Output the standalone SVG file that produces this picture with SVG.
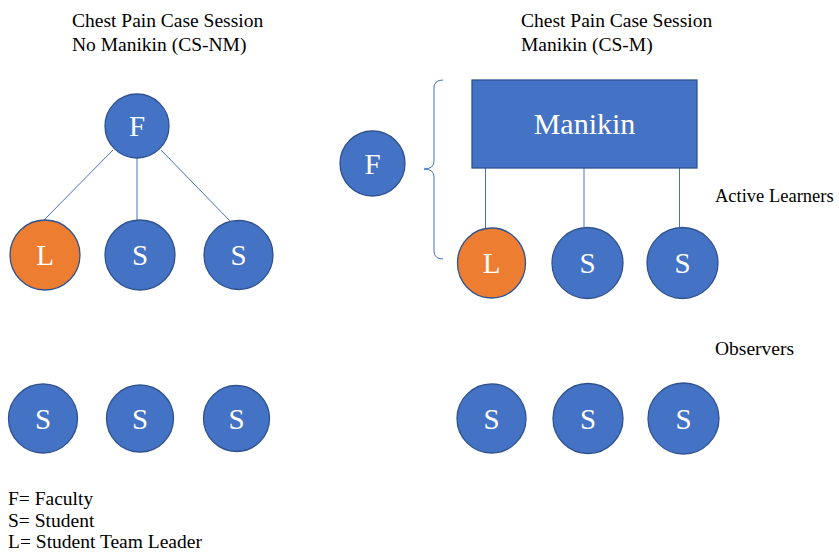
<svg xmlns="http://www.w3.org/2000/svg" width="839" height="553" viewBox="0 0 839 553">
<style>
.t{font-family:'Liberation Serif','Tinos','Times New Roman','DejaVu Serif',serif;font-size:19.5px;fill:#000}
.n{fill:#4472C4;stroke:#2F528F;stroke-width:1.3}
.o{fill:#ED7D31;stroke:#2F528F;stroke-width:1.3}
.lb{font-family:'Liberation Serif','Tinos','Times New Roman','DejaVu Serif',serif;font-size:29px;fill:#fff;text-anchor:middle}
.c{stroke:#4472C4;stroke-width:1;fill:none}
</style>
<rect width="839" height="553" fill="#fff"/>
<g id="titles">
<text class="t" x="72" y="27">Chest Pain Case Session</text>
<text class="t" x="72" y="51">No Manikin (CS-NM)</text>
<text class="t" x="521" y="27">Chest Pain Case Session</text>
<text class="t" x="521" y="51">Manikin (CS-M)</text>
<text class="t" x="715" y="202" style="font-size:18.5px">Active Learners</text>
<text class="t" x="715" y="355">Observers</text>
<text class="t" x="8" y="505">F= Faculty</text>
<text class="t" x="8" y="527">S= Student</text>
<text class="t" x="8" y="548">L= Student Team Leader</text>
</g>
<g id="connectors">
<line class="c" x1="113" y1="150" x2="44" y2="220"/>
<line class="c" x1="137" y1="158" x2="137" y2="220"/>
<line class="c" x1="161" y1="150" x2="230" y2="221"/>
<line class="c" x1="485.5" y1="168" x2="485.5" y2="228"/>
<line class="c" x1="584" y1="168" x2="584" y2="227"/>
<line class="c" x1="679.5" y1="168" x2="679.5" y2="227"/>
<path class="c" d="M443,80 Q434,80 434,88 L434,161 Q434,169 424,169 Q434,169 434,177 L434,251 Q434,259 443,259"/>
</g>
<g id="nm-F"><circle class="n" cx="137" cy="126" r="32"/><text class="lb" x="137" y="136">F</text></g>
<g id="nm-L"><circle class="o" cx="45" cy="255" r="35"/><text class="lb" x="45" y="265">L</text></g>
<g id="nm-S1"><circle class="n" cx="140" cy="255" r="35"/><text class="lb" x="140" y="265">S</text></g>
<g id="nm-S2"><circle class="n" cx="238.5" cy="255" r="34.5"/><text class="lb" x="238.5" y="265">S</text></g>
<g id="nm-O1"><circle class="n" cx="43" cy="418.5" r="34.5"/><text class="lb" x="43" y="428.5">S</text></g>
<g id="nm-O2"><circle class="n" cx="140" cy="418.5" r="33.5"/><text class="lb" x="140" y="428.5">S</text></g>
<g id="nm-O3"><circle class="n" cx="236.5" cy="418.5" r="33"/><text class="lb" x="236.5" y="428.5">S</text></g>
<g id="m-F"><circle class="n" cx="372.5" cy="163.5" r="32.5"/><text class="lb" x="372.5" y="173.5">F</text></g>
<g id="m-Manikin"><rect class="n" x="472" y="80" width="225" height="88"/><text class="lb" x="584.5" y="134" style="font-size:30px">Manikin</text></g>
<g id="m-L"><ellipse class="o" cx="491.5" cy="263" rx="34" ry="35"/><text class="lb" x="491.5" y="273">L</text></g>
<g id="m-S1"><circle class="n" cx="587.5" cy="263" r="35.5"/><text class="lb" x="587.5" y="273">S</text></g>
<g id="m-S2"><circle class="n" cx="682.5" cy="263" r="35.5"/><text class="lb" x="682.5" y="273">S</text></g>
<g id="m-O1"><circle class="n" cx="491.5" cy="418.5" r="34.5"/><text class="lb" x="491.5" y="428.5">S</text></g>
<g id="m-O2"><circle class="n" cx="588" cy="418.5" r="35"/><text class="lb" x="588" y="428.5">S</text></g>
<g id="m-O3"><circle class="n" cx="683.5" cy="418.5" r="35.5"/><text class="lb" x="683.5" y="428.5">S</text></g>
</svg>
